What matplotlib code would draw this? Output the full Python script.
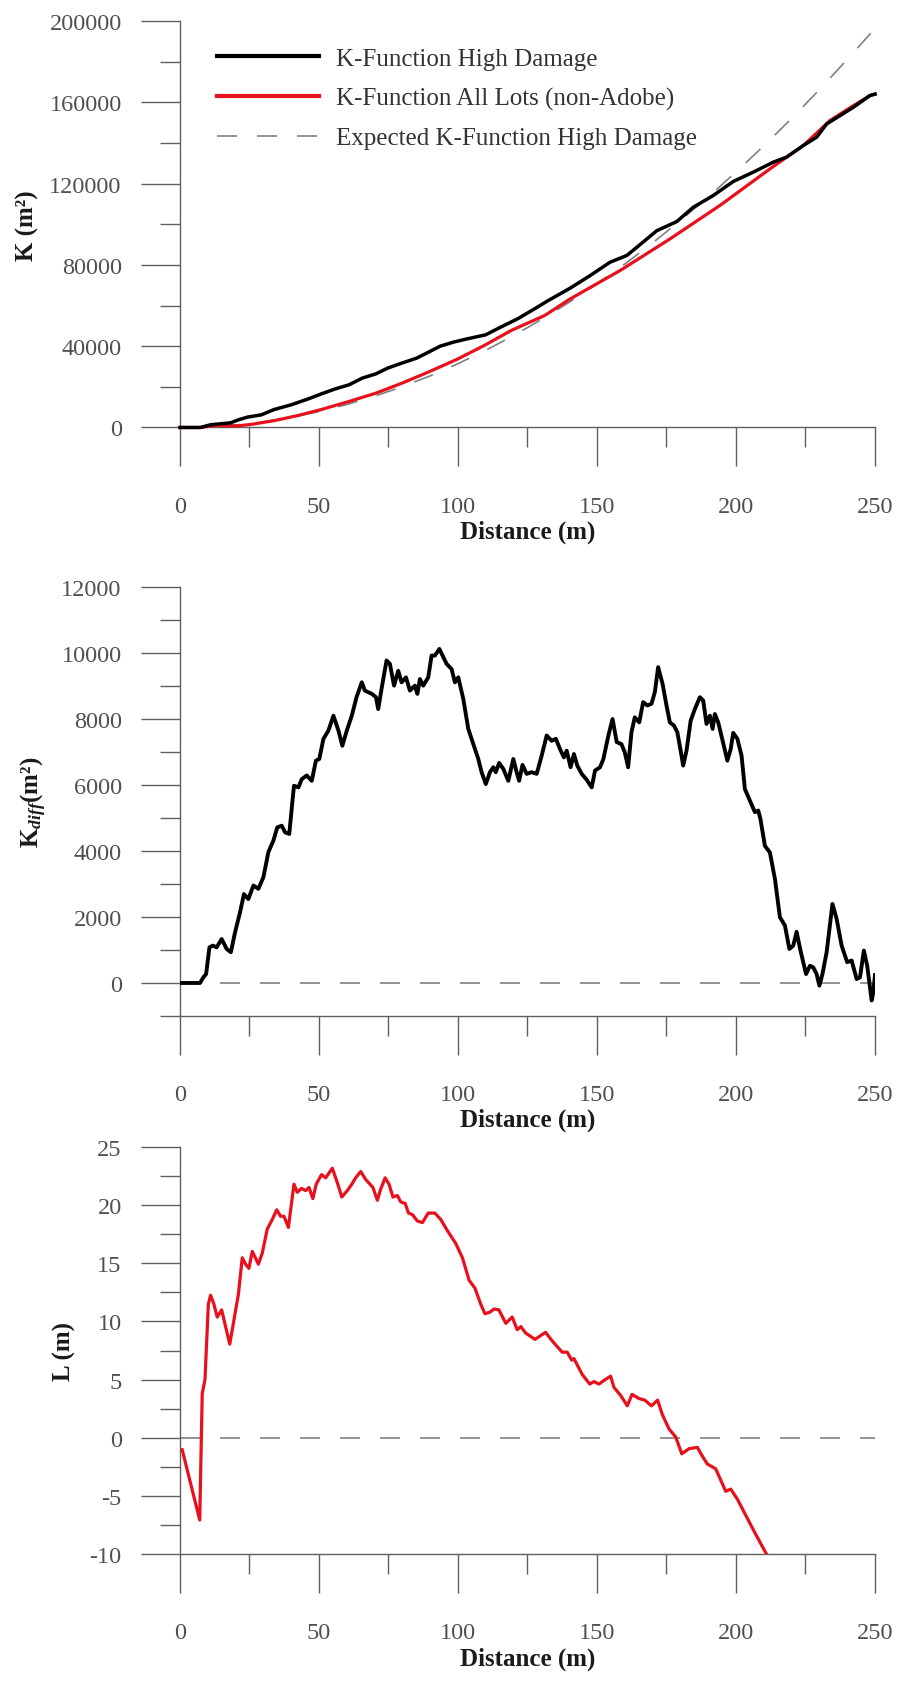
"""
Ripley K-function plots: K for high damage vs all lots, K difference, and L function.
"""
import matplotlib
matplotlib.use('Agg')
import matplotlib.pyplot as plt
from matplotlib.ticker import MultipleLocator, FuncFormatter
from matplotlib.lines import Line2D

plt.rcParams['font.family'] = ['Liberation Serif', 'DejaVu Serif']
plt.rcParams['mathtext.fontset'] = 'custom'
plt.rcParams['mathtext.rm'] = 'Liberation Serif:bold'
plt.rcParams['mathtext.it'] = 'Liberation Serif:italic:bold'
plt.rcParams['mathtext.bf'] = 'Liberation Serif:bold'

# --- top panel: K functions (m^2) ---
k_high_dist = [0, 7.3, 10.9, 18.2, 21.3, 24.3, 29.2, 34.0, 40.1, 46.2, 51.0, 55.9, 60.8, 65.6,
               70.5, 74.7, 79.0, 85.1, 89.9, 93.6, 98.4, 103.3, 110.0, 115.4, 121.5, 127.6,
               131.9, 140.3, 147.5, 154.7, 160.7, 164.3, 171.5, 178.7, 184.6, 191.8, 199.0,
               206.2, 213.4, 218.2, 224.2, 229.0, 232.6, 237.4, 242.2, 248.2, 250]
k_high = [0, 0, 1300, 2300, 3900, 5100, 6200, 8900, 11200, 14100, 16600, 19000, 21000, 24300,
          26400, 29200, 31300, 34100, 37400, 40000, 42000, 43600, 45600, 49400, 53500, 58400,
          62000, 68500, 74700, 81300, 84600, 88600, 96800, 101300, 108300, 114100, 121000,
          125600, 130500, 133000, 138700, 142800, 149300, 153400, 157500, 163300, 164000]

k_all_dist = [0, 7.3, 12.2, 20.7, 25.5, 34.0, 42.5, 51.0, 60.8, 70.5, 80.2, 89.9, 99.6, 109.4,
              119.1, 131.2, 140.3, 158.3, 176.3, 194.2, 212.2, 224.2, 233.8, 242.2, 248.2, 250]
k_all = [0, 0, 900, 800, 1500, 3400, 5900, 8900, 12800, 16900, 22000, 27600, 33500, 40300,
         47700, 55100, 63200, 77200, 92800, 109200, 127200, 138700, 151000, 158300, 163300, 164000]

k_exp_dist = [0, 10, 20, 30, 40, 50, 60, 70, 80, 90, 100, 110, 120, 130, 140, 150, 160, 170,
              180, 190, 200, 210, 220, 230, 240, 250]
k_exp = [0, 300, 1250, 2800, 5000, 7850, 11300, 15400, 20100, 25400, 31400, 38000, 45200,
         53100, 61600, 70700, 80400, 90800, 101800, 113400, 125700, 138500, 152000, 166200,
         181000, 196300]

# --- middle panel: K difference (m^2) ---
kdiff_dist = [0, 7.2, 8.4, 9.4, 10.6, 11.8, 13.2, 15.0, 16.8, 18.3, 19.8, 21.6, 23.0, 24.6,
              26.4, 28.2, 30.0, 31.8, 33.6, 35.0, 36.6, 37.8, 39.3, 41.0, 42.6, 43.8, 45.6,
              47.4, 48.9, 50.1, 51.6, 53.4, 55.2, 57.0, 58.4, 60.0, 61.8, 63.5, 65.4, 66.5,
              69.0, 70.5, 71.3, 72.5, 74.3, 75.5, 77.0, 78.5, 79.7, 81.3, 82.7, 84.5, 85.4,
              86.3, 87.5, 89.3, 90.5, 91.7, 93.3, 95.9, 97.7, 98.9, 100.1, 101.9, 103.7,
              105.5, 107.3, 108.5, 110.0, 111.5, 112.7, 113.6, 114.8, 116.3, 118.1, 119.9,
              121.1, 122.0, 123.2, 124.7, 126.5, 128.3, 130.1, 131.9, 133.7, 135.2, 136.7,
              138.1, 139.1, 140.5, 141.7, 142.9, 144.5, 146.3, 148.1, 149.3, 151.1, 152.3,
              154.1, 155.6, 157.1, 158.8, 160.0, 161.2, 162.4, 163.6, 165.2, 166.6, 168.1,
              169.6, 170.8, 172.0, 173.6, 175.0, 176.2, 177.7, 178.9, 180.1, 181.0, 182.2,
              183.7, 185.2, 187.0, 188.2, 189.4, 190.6, 191.6, 192.4, 193.6, 195.2, 196.9,
              198.1, 199.0, 200.5, 202.0, 203.2, 205.0, 206.8, 208.0, 208.8, 210.4, 212.2,
              214.0, 215.8, 217.6, 219.2, 220.6, 221.8, 223.2, 225.2, 226.6, 227.8, 229.0,
              230.0, 231.1, 232.6, 234.7, 236.2, 238.0, 240.0, 241.6, 243.4, 244.6, 246.0,
              247.2, 248.8, 249.4, 250.0]
kdiff = [0, 0, 170, 270, 1080, 1130, 1080, 1330, 1030, 930, 1530, 2140, 2690, 2540,
         2950, 2850, 3200, 3960, 4310, 4710, 4760, 4560, 4510, 5970, 5920, 6170, 6280,
         6120, 6730, 6780, 7390, 7640, 8090, 7640, 7180, 7640, 8090, 8650, 9100, 8850,
         8750, 8650, 8290, 8900, 9760, 9660, 9000, 9450, 9100, 9250, 8850, 9000, 8750,
         9200, 9000, 9250, 9910, 9910, 10110, 9660, 9500, 9100, 9250, 8600, 7690,
         7230, 6780, 6380, 6020, 6380, 6530, 6380, 6660, 6480, 6120, 6780,
         6380, 6120, 6600, 6330, 6380, 6330, 6880, 7490, 7330, 7390, 7080,
         6830, 7030, 6530, 6930, 6580, 6330, 6150, 5920, 6430, 6530, 6780,
         7490, 7990, 7290, 7230, 6980, 6530, 7590, 8040, 7890, 8500, 8400,
         8450, 8800, 9560, 9050, 8400, 7890, 7790, 7590, 7030, 6580, 7030,
         7940, 8290, 8650, 8550, 7840, 8090, 7690, 8140, 7890, 7330, 6730,
         7080, 7570, 7390, 6880, 5870, 5520, 5170, 5220, 4960, 4150, 3950,
         3150, 1990, 1740, 1030, 1130, 1550, 980, 270, 520, 470, 270,
         -80, 270, 930, 2390, 1940, 1130, 630, 680, 120, 170, 980,
         520, -530, -280, 240]

# --- bottom panel: L function (m) ---
l_dist = [0.8, 7.1, 8.0, 9.0, 10.2, 11.0, 12.2, 13.4, 15.0, 16.4, 17.9, 19.4, 21.0, 22.4,
          23.6, 24.8, 26.0, 28.2, 29.6, 31.4, 33.2, 34.8, 36.2, 37.4, 39.0, 41.0, 42.2,
          43.7, 45.2, 46.4, 47.8, 49.0, 50.9, 52.4, 54.8, 56.6, 58.2, 60.2, 61.8, 63.2,
          65.0, 66.8, 69.4, 71.0, 72.2, 73.8, 75.2, 76.6, 78.2, 79.4, 81.0, 82.2, 83.6,
          85.4, 87.2, 89.3, 91.7, 93.8, 96.2, 99.2, 101.6, 104.0, 106.1, 108.2, 109.7,
          111.4, 113.0, 114.7, 117.2, 119.5, 121.3, 122.6, 124.3, 127.7, 131.5, 133.9,
          137.5, 139.3, 140.9, 141.7, 144.7, 147.4, 148.9, 150.7, 153.1, 154.9, 156.1,
          158.5, 160.9, 162.6, 165.1, 167.2, 169.6, 171.8, 173.5, 175.9, 178.3, 180.5,
          183.1, 186.1, 187.9, 189.7, 192.7, 196.3, 198.1, 200.5, 202.9, 204.7, 206.5,
          208.5, 211.0]
l_func = [-1.02, -7.06, 3.79, 5.03, 11.48, 12.25, 11.48, 10.38, 10.99, 9.56, 8.05, 10.11,
          12.31, 15.47, 14.92, 14.56, 16.02, 14.92, 15.88, 17.94, 18.76, 19.59, 19.04, 19.04,
          18.08, 21.79, 21.10, 21.43, 21.24, 21.51, 20.55, 21.79, 22.61, 22.34, 23.16, 21.92,
          20.69, 21.24, 21.79, 22.34, 22.88, 22.20, 21.51, 20.41, 21.37, 22.34, 21.79, 20.69,
          20.82, 20.27, 20.14, 19.31, 19.18, 18.63, 18.49, 19.31, 19.31, 18.76, 17.80, 16.70,
          15.47, 13.54, 12.86, 11.48, 10.66, 10.79, 11.07, 11.0, 9.84, 10.38, 9.29, 9.56,
          9.01, 8.46, 9.07, 8.32, 7.36, 7.36, 6.68, 6.81, 5.44, 4.62, 4.84, 4.62, 5.03, 5.30,
          4.34, 3.65, 2.75, 3.74, 3.38, 3.24, 2.75, 3.24, 2.00, 0.77, 0.08, -1.37, -0.93,
          -0.82, -1.57, -2.25, -2.66, -4.59, -4.40, -5.27, -6.37, -7.20, -8.02, -8.9, -10.0]

ref_dist = [0, 250]
ref_zero = [0, 0]

AXIS_GRAY = '#5f5f5f'
TICK_GRAY = '#505050'
LABEL_COLOR = '#1a1a1a'
RED = '#e8101a'
DASH_GRAY = '#808080'


def style_axis(ax, ymin, ymax, ymajor, yminor):
    """Cross-style axes with long outward ticks"""
    ax.set_xlim(0, 250)
    ax.set_ylim(ymin, ymax)
    for side in ['top', 'right']:
        ax.spines[side].set_visible(False)
    for side in ['left', 'bottom']:
        ax.spines[side].set_color(AXIS_GRAY)
        ax.spines[side].set_linewidth(1.0)
    ax.xaxis.set_major_locator(MultipleLocator(50))
    ax.xaxis.set_minor_locator(MultipleLocator(25))
    ax.yaxis.set_major_locator(MultipleLocator(ymajor))
    ax.yaxis.set_minor_locator(MultipleLocator(yminor))
    ax.yaxis.set_major_formatter(FuncFormatter(lambda v, p: f"{v:g}"))
    ax.tick_params(which='major', direction='out', length=28, width=1.0, color=AXIS_GRAY,
                   labelsize=17.5, labelcolor=TICK_GRAY)
    ax.tick_params(which='minor', direction='out', length=14.5, width=1.0, color=AXIS_GRAY)
    ax.tick_params(axis='x', which='major', pad=21)
    ax.tick_params(axis='y', which='major', pad=14)
    ax.set_xlabel('Distance (m)', fontsize=18, fontweight='bold', color=LABEL_COLOR, labelpad=2)


fig = plt.figure(figsize=(8.99, 16.99), dpi=100)
ax1 = fig.add_axes([0.2002, 0.7478, 0.7731, 0.2393])
ax2 = fig.add_axes([0.2002, 0.4014, 0.7731, 0.2528])
ax3 = fig.add_axes([0.2002, 0.0846, 0.7731, 0.2398])

dash_kw = dict(color=DASH_GRAY, linewidth=1.2, dashes=(12, 12))

# Top: K functions
ax1.plot(k_exp_dist, k_exp, zorder=2, **dash_kw)
ax1.plot(k_all_dist, k_all, color=RED, linewidth=2.3, zorder=3, clip_on=False)
ax1.plot(k_high_dist, k_high, color='black', linewidth=2.5, zorder=4, clip_on=False)
style_axis(ax1, 0, 200000, 40000, 20000)
ax1.set_ylabel('K (m²)', fontsize=18, fontweight='bold', color=LABEL_COLOR)
ax1.yaxis.set_label_coords(-0.203, 0.5)

handles = [
    Line2D([], [], color='black', linewidth=3.0),
    Line2D([], [], color=RED, linewidth=3.0),
    Line2D([], [], **dash_kw),
]
labels = ['K-Function High Damage', 'K-Function All Lots (non-Adobe)',
          'Expected K-Function High Damage']
leg = ax1.legend(handles, labels, loc='upper left', bbox_to_anchor=(0.053, 0.935),
                 frameon=False, fontsize=18, handlelength=4.1, handletextpad=0.65,
                 labelspacing=0.68, borderpad=0, borderaxespad=0)
for txt in leg.get_texts():
    txt.set_color('#333333')

# Middle: K difference
ax2.plot(ref_dist, ref_zero, zorder=2, **dash_kw)
ax2.plot(kdiff_dist, kdiff, color='black', linewidth=2.8, zorder=3)
style_axis(ax2, -1000, 12000, 2000, 1000)
ax2.set_ylabel('K$_{diff}$(m²)', fontsize=18, fontweight='bold', color=LABEL_COLOR)
ax2.yaxis.set_label_coords(-0.189, 0.5)

# Bottom: L function
ax3.plot(ref_dist, ref_zero, zorder=2, **dash_kw)
ax3.plot(l_dist, l_func, color=RED, linewidth=2.3, zorder=3)
style_axis(ax3, -10, 25, 5, 2.5)
ax3.set_ylabel('L (m)', fontsize=18, fontweight='bold', color=LABEL_COLOR)
ax3.yaxis.set_label_coords(-0.15, 0.5)

fig.savefig('out.png', dpi=100, facecolor='white')
